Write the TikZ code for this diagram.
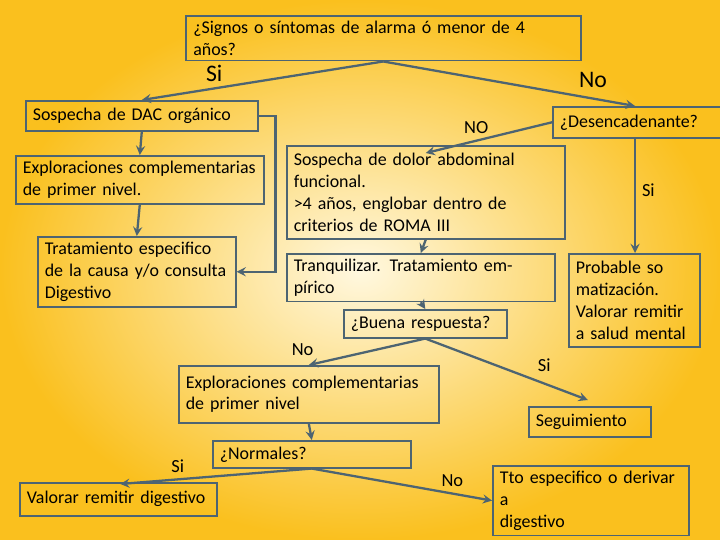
\documentclass[tikz,border=0pt]{standalone}
\usepackage{fontspec}
\setmainfont{Carlito}
\usetikzlibrary{positioning, arrows, shapes, calc}
\definecolor{linec}{HTML}{4D6472}
\definecolor{bgin}{HTML}{FFF8E0}
\definecolor{bgout}{HTML}{FAC01E}
\tikzstyle{arrow} = [line width=1.3pt, draw=linec, ->, >=stealth]
\tikzstyle{box} = [rectangle, draw=linec, line width=0.9pt, anchor=north west, align=left, inner xsep=4pt, inner ysep=3pt, font=\fontsize{10.2}{12.4}\selectfont]
\tikzstyle{lbl} = [font=\fontsize{10.5}{12}\selectfont]
\tikzstyle{biglbl} = [font=\fontsize{13.5}{14}\selectfont]

\begin{document}
\begin{tikzpicture}[x=0.02cm, y=-0.02cm]
        \shade[inner color=bgin, outer color=bgout] (0,0) rectangle (720,540);
        \useasboundingbox (0,0) rectangle (720,540);
        \node (top) [box, minimum width=7.9cm, minimum height=0.6cm, text width=7.6cm] at (185,15) {¿Signos o síntomas de alarma ó menor de 4 años?};
        \node (dac) [box, minimum height=0.6cm, text width=4.36cm] at (25,100) {Sospecha de DAC orgánico};
        \node (expl) [box, minimum height=0.96cm, text width=4.68cm] at (15,155) {Exploraciones complementarias\\de primer nivel.};
        \node (trat) [box, minimum height=1.4cm, text width=3.68cm] at (37,236) {Tratamiento especifico\\de la causa y/o consulta\\Digestivo};
        \node (desenc) [box, minimum height=0.62cm, text width=3.1cm] at (552,106) {¿Desencadenante?};
        \node (sosp) [box, minimum height=1.86cm, text width=5.28cm] at (286,145) {Sospecha de dolor abdominal\\funcional.\\>4 años, englobar dentro de\\criterios de ROMA III};
        \node (tranq) [box, minimum height=0.66cm, text width=5.08cm] at (286,253) {Tranquilizar. Tratamiento empírico};
        \node (prob) [box, minimum height=1.86cm, text width=2.34cm] at (568,253) {Probable so\\matización.\\Valorar remitir\\a salud mental};
        \node (buena) [box, minimum height=0.56cm, text width=2.98cm] at (343,309) {¿Buena respuesta?};
        \node (expl2) [box, minimum height=1.14cm, text width=4.92cm] at (178,365) {Exploraciones complementarias\\de primer nivel};
        \node (seg) [box, minimum height=0.6cm, text width=2.16cm] at (528,406) {Seguimiento};
        \node (norm) [box, minimum height=0.54cm, text width=3.68cm] at (212,440) {¿Normales?};
        \node (valor) [box, minimum height=0.66cm, text width=3.66cm] at (19,482) {Valorar remitir digestivo};
        \node (tto) [box, minimum height=0.96cm, text width=3.64cm] at (492,465) {Tto especifico o derivar a\\digestivo};

        \draw [arrow] (top.south) -- node[biglbl, above, pos=0.7]{Si} (dac.north);
        \draw [arrow] (top.south) -- node[biglbl, above right, pos=0.75]{No} ($(desenc.north west)+(83,0)$);
        \draw [arrow] (dac.east) -- ++(17,0) |- (trat.east);
        \draw [arrow] (dac.south) -- (expl.north);
        \draw [arrow] (expl.south) -- (trat.north);
        \draw [arrow] (desenc.west) -- node[lbl, above, pos=0.6]{NO} ($(sosp.north)+(0,8)$);
        \draw [arrow] ($(desenc.south west)+(83,0)$) -- node[lbl, right, pos=0.45]{Si} ($(prob.north west)+(67,0)$);
        \draw [arrow] (sosp.south) -- (tranq.north);
        \draw [arrow] (tranq.south) -- (buena.north);
        \draw [arrow] (buena.south) -- node[lbl, above left, pos=0.9]{No} (expl2.north);
        \draw [arrow] (buena.south) -- node[lbl, pos=0.65, above right]{Si} ($(seg.north)+(-2,-6)$);
        \draw [arrow] (expl2.south) -- (norm.north);
        \draw [arrow] (norm.south) -- node[lbl, above, pos=0.7]{Si} ($(valor.north)+(2,2)$);
        \draw [arrow] (norm.south) -- node[lbl, above, pos=0.78]{No} (tto.west);
\end{tikzpicture}
\end{document}
